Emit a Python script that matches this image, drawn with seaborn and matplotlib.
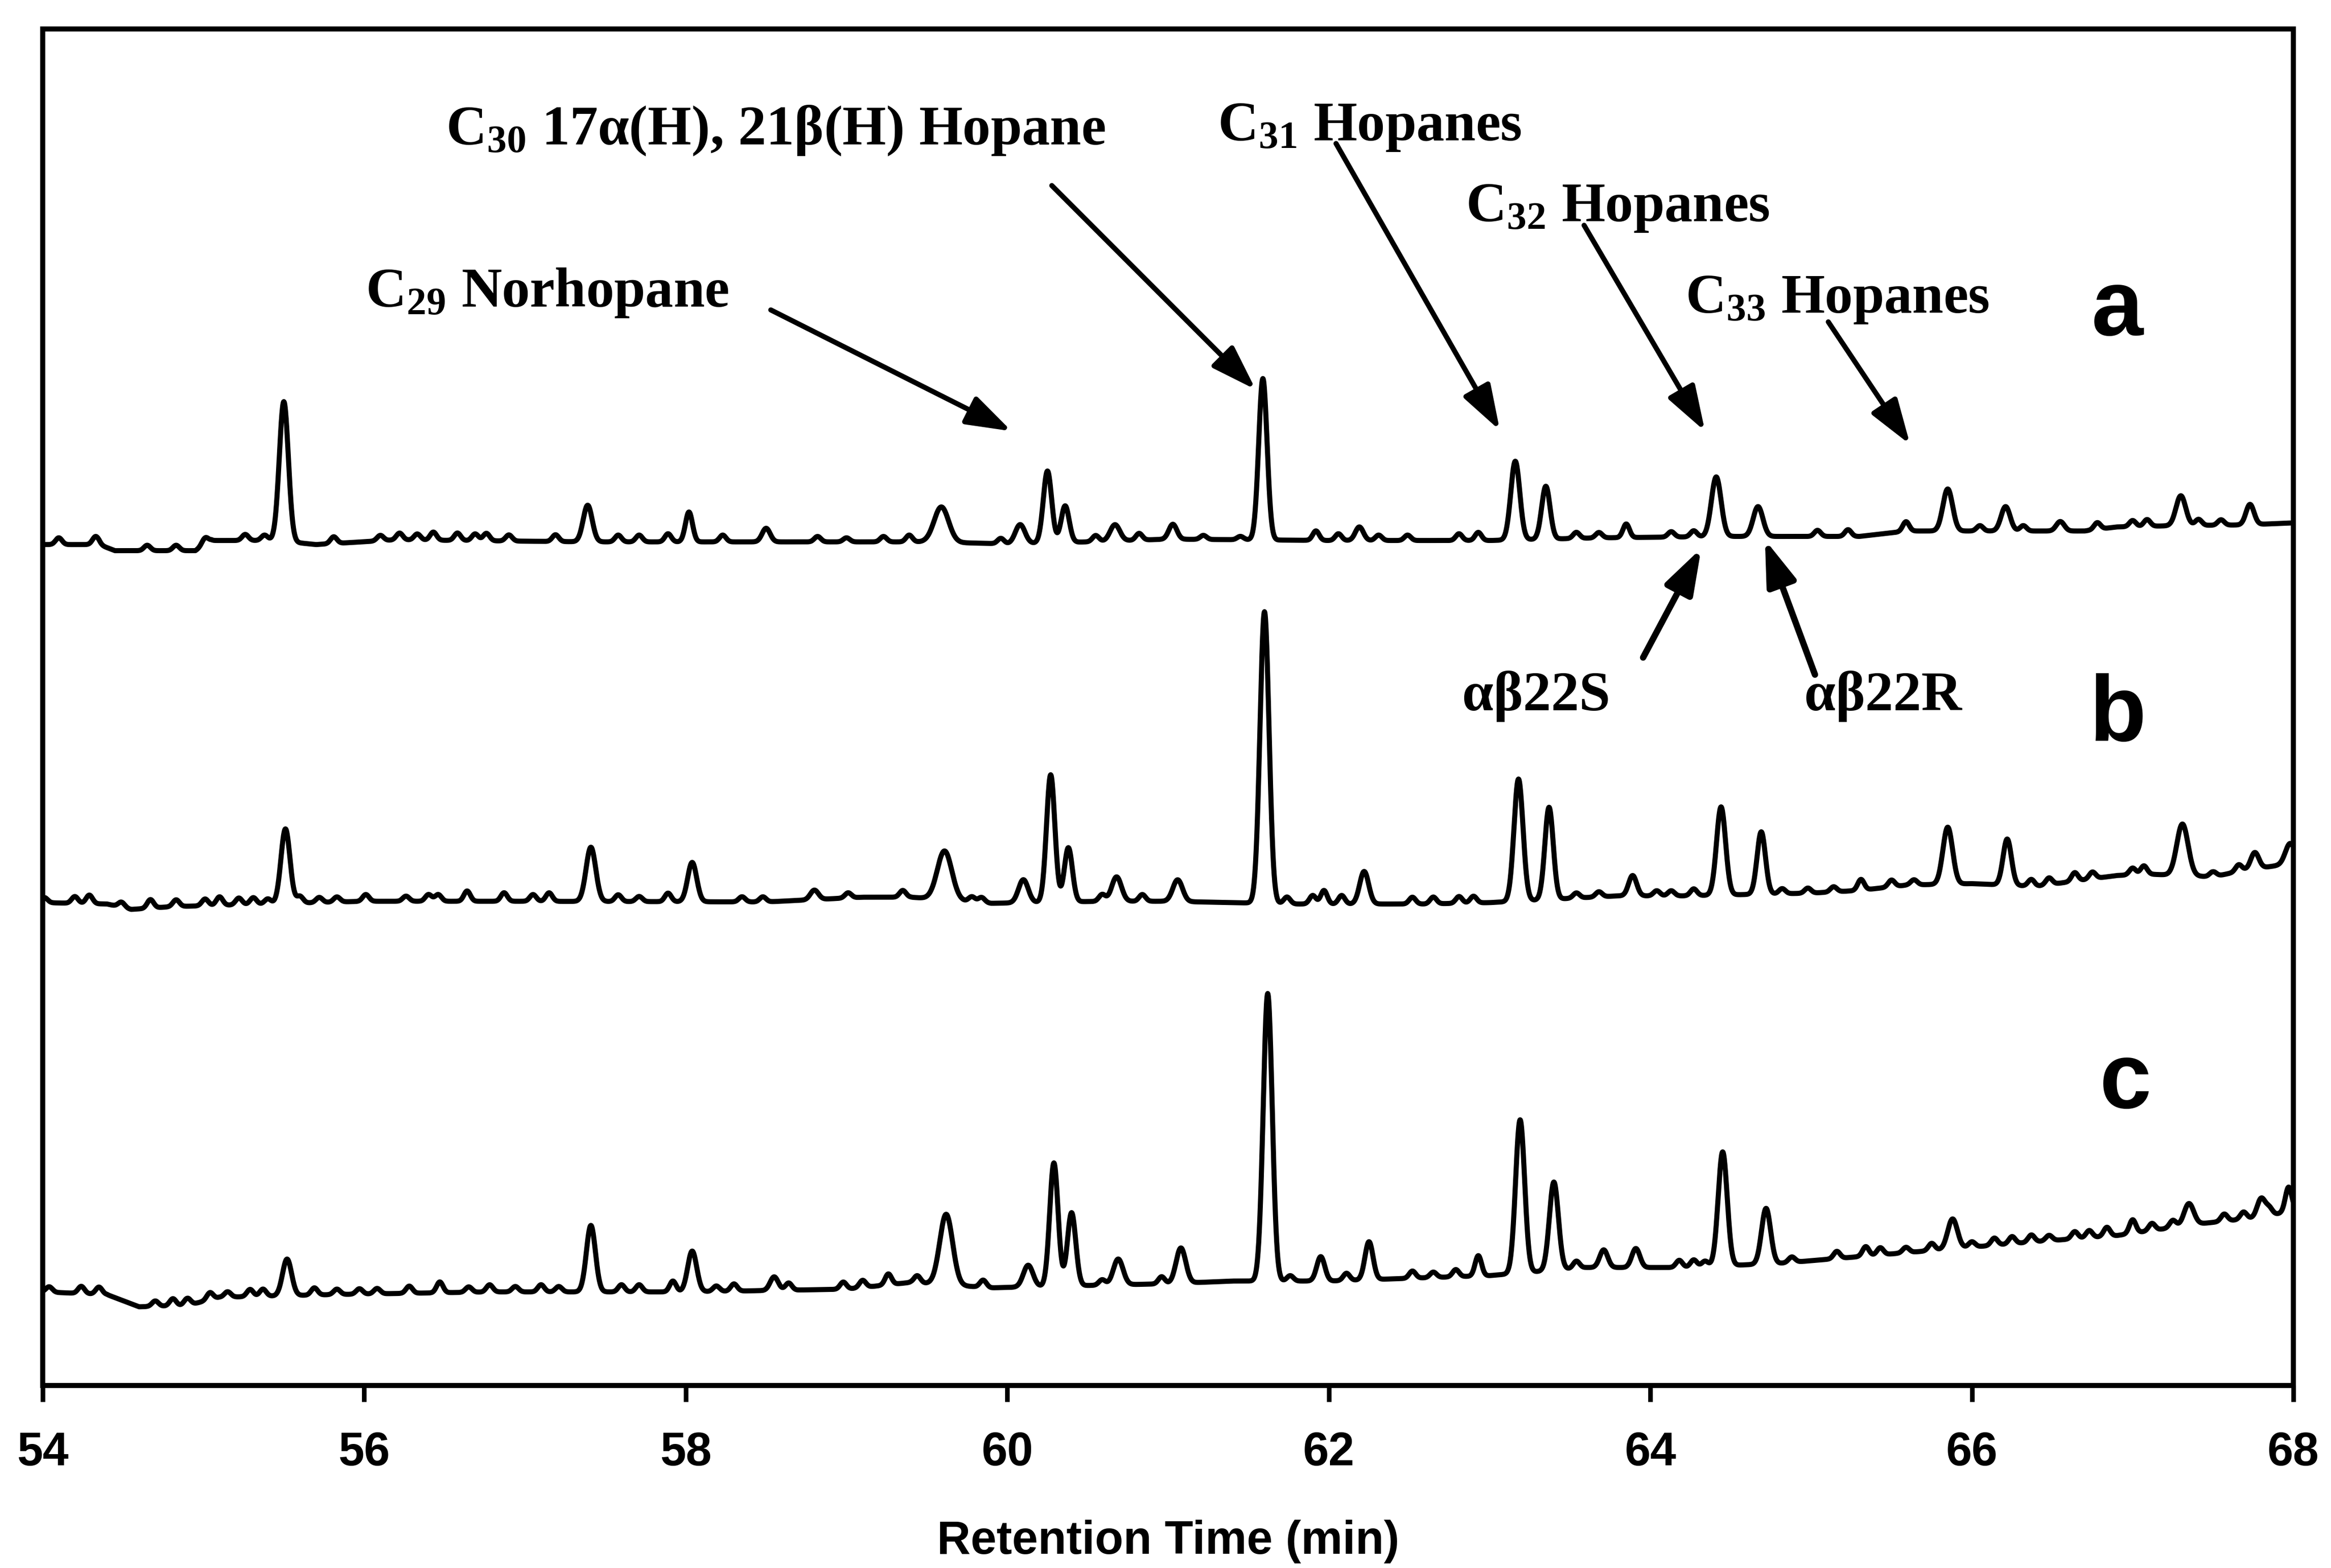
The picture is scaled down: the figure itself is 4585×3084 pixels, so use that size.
import numpy as np
import pandas as pd
import matplotlib
matplotlib.use("Agg")
import matplotlib.pyplot as plt
import seaborn as sns

# ---------------- data ----------------
x_ticks = [54, 56, 58, 60, 62, 64, 66, 68]
x_label = "Retention Time (min)"
trace_names = ["a", "b", "c"]

# baselines (retention time, signal in % of plot height)
base_a_t = [54.0, 54.35, 54.45, 54.95, 55.05, 55.45, 55.7, 56.2, 57.4, 59.5, 60.0, 60.5, 61.0, 62.0,
            63.0, 63.7, 64.5, 65.3, 65.6, 66.7, 66.9, 67.3, 67.7, 68.0]
base_a_u = [62.0, 62.0, 61.55, 61.55, 62.3, 62.3, 62.0, 62.35, 62.2, 62.2, 62.05, 62.2, 62.4, 62.3,
            62.3, 62.5, 62.6, 62.6, 63.0, 63.0, 63.3, 63.4, 63.45, 63.6]
base_b_t = [54.0, 54.4, 54.55, 54.8, 55.1, 56.0, 57.0, 58.5, 59.1, 59.4, 59.9, 60.6, 61.0, 61.8, 62.6,
            63.0, 63.8, 64.2, 65.0, 65.3, 65.6, 66.0, 66.4, 66.9, 67.1, 67.5, 67.7, 68.0]
base_b_u = [35.6, 35.5, 35.1, 35.3, 35.4, 35.7, 35.7, 35.65, 36.0, 36.0, 35.55, 35.7, 35.7, 35.5, 35.5,
            35.6, 36.1, 36.1, 36.3, 36.5, 36.9, 37.0, 36.8, 37.6, 37.7, 37.5, 38.0, 38.5]
base_c_t = [54.0, 54.4, 54.6, 54.9, 55.1, 55.8, 56.8, 58.0, 59.0, 59.4, 59.9, 60.6, 61.0, 61.4, 62.0,
            62.5, 63.0, 63.6, 64.2, 64.8, 65.3, 65.8, 66.4, 66.9, 67.4, 67.8, 68.0]
base_c_u = [6.9, 6.7, 5.8, 5.9, 6.5, 6.7, 6.9, 6.9, 7.1, 7.6, 7.2, 7.4, 7.5, 7.7, 7.7,
            7.9, 8.1, 8.7, 8.7, 9.0, 9.5, 10.0, 10.6, 11.05, 11.9, 12.4, 12.9]

# resolved peaks: retention time, height above baseline, width (sigma, min)
peak_a_t = [55.50, 57.39, 58.02, 58.50, 59.59, 60.08, 60.25, 60.36, 60.67, 61.03, 61.59, 61.92, 62.19,
            62.93, 63.16, 63.35, 63.85, 64.41, 64.67, 65.59, 65.85, 66.21, 66.55, 67.30, 67.73]
peak_a_h = [10.3, 2.7, 2.2, 1.0, 2.6, 1.4, 5.3, 2.7, 1.2, 1.1, 11.9, 0.7, 1.0,
            0.6, 5.8, 3.9, 1.0, 4.4, 2.2, 0.7, 3.1, 1.8, 0.7, 2.2, 1.5]
peak_a_w = [0.028, 0.028, 0.022, 0.025, 0.045, 0.03, 0.026, 0.025, 0.03, 0.025, 0.026, 0.02, 0.025,
            0.02, 0.028, 0.026, 0.02, 0.03, 0.03, 0.02, 0.03, 0.028, 0.025, 0.03, 0.025]

peak_b_t = [55.51, 57.41, 58.04, 58.80, 59.61, 60.10, 60.27, 60.38, 60.68, 61.06, 61.60, 61.97, 62.22,
            63.18, 63.37, 63.89, 64.44, 64.69, 65.31, 65.85, 66.22, 67.31, 67.76, 67.98]
peak_b_h = [5.5, 4.0, 2.9, 0.7, 3.6, 1.7, 9.4, 4.0, 1.8, 1.6, 21.5, 1.0, 2.4,
            9.0, 6.8, 1.5, 6.5, 4.6, 0.8, 4.2, 3.4, 3.8, 1.2, 1.5]
peak_b_w = [0.028, 0.03, 0.028, 0.025, 0.045, 0.03, 0.026, 0.025, 0.03, 0.03, 0.028, 0.02, 0.028,
            0.028, 0.026, 0.025, 0.028, 0.026, 0.02, 0.03, 0.026, 0.035, 0.025, 0.03]

peak_c_t = [55.52, 57.41, 58.04, 58.55, 59.62, 60.13, 60.29, 60.40, 60.69, 61.08, 61.62, 61.95, 62.25,
            62.93, 63.19, 63.40, 63.71, 63.91, 64.45, 64.72, 65.34, 65.88, 67.00, 67.35, 67.80, 67.97]
peak_c_h = [2.7, 4.9, 3.0, 1.0, 5.2, 1.6, 9.1, 5.4, 1.9, 2.6, 21.2, 1.8, 2.8,
            1.5, 11.3, 6.5, 1.3, 1.4, 8.4, 4.1, 0.7, 2.2, 1.0, 1.6, 1.4, 1.8]
peak_c_w = [0.028, 0.028, 0.028, 0.025, 0.04, 0.03, 0.026, 0.026, 0.03, 0.03, 0.028, 0.025, 0.025,
            0.02, 0.028, 0.028, 0.025, 0.025, 0.028, 0.028, 0.02, 0.03, 0.02, 0.03, 0.025, 0.02]

# small baseline wiggles (noise bumps)
minor_a_t = [54.10, 54.33, 54.65, 54.83, 55.01, 55.26, 55.38, 55.81, 56.10, 56.22, 56.33, 56.43, 56.58,
             56.69, 56.76, 56.90, 57.19, 57.58, 57.71, 57.89, 58.23, 58.82, 59.00, 59.23, 59.39, 59.96,
             60.55, 60.82, 61.22, 61.45, 62.06, 62.31, 62.49, 62.81, 63.54, 63.68, 64.13, 64.27, 65.04,
             65.23, 66.05, 66.32, 66.78, 67.00, 67.09, 67.41, 67.55]
minor_a_h = [0.5, 0.6, 0.4, 0.4, 0.5, 0.45, 0.4, 0.5, 0.4, 0.5, 0.45, 0.6, 0.55,
             0.5, 0.55, 0.45, 0.5, 0.5, 0.5, 0.6, 0.5, 0.4, 0.3, 0.4, 0.5, 0.4,
             0.45, 0.5, 0.3, 0.25, 0.5, 0.4, 0.4, 0.5, 0.45, 0.4, 0.4, 0.45, 0.45,
             0.5, 0.4, 0.4, 0.5, 0.45, 0.5, 0.45, 0.4]
minor_b_t = [54.01, 54.20, 54.29, 54.49, 54.67, 54.83, 55.01, 55.10, 55.22, 55.31, 55.40, 55.60, 55.72,
             55.83, 56.01, 56.26, 56.40, 56.46, 56.64, 56.87, 57.05, 57.15, 57.58, 57.71, 57.89, 58.35,
             58.48, 59.01, 59.35, 59.78, 59.84, 60.59, 60.84, 61.74, 61.90, 62.08, 62.52, 62.65, 62.81,
             62.90, 63.54, 63.68, 64.04, 64.13, 64.27, 64.82, 64.98, 65.14, 65.50, 65.64, 66.37, 66.48,
             66.64, 66.75, 67.00, 67.07, 67.50, 67.66]
minor_b_h = [0.38, 0.5, 0.63, 0.38, 0.63, 0.5, 0.5, 0.63, 0.5, 0.5, 0.38, 0.5, 0.38,
             0.38, 0.5, 0.38, 0.5, 0.5, 0.76, 0.63, 0.5, 0.63, 0.5, 0.38, 0.63, 0.38,
             0.38, 0.38, 0.5, 0.38, 0.38, 0.5, 0.5, 0.5, 0.63, 0.63, 0.5, 0.5, 0.5,
             0.5, 0.38, 0.38, 0.38, 0.38, 0.5, 0.38, 0.38, 0.38, 0.5, 0.38, 0.5, 0.5,
             0.63, 0.5, 0.5, 0.63, 0.38, 0.5]
minor_c_t = [54.04, 54.24, 54.35, 54.70, 54.81, 54.90, 55.04, 55.15, 55.29, 55.37, 55.69, 55.83, 55.97,
             56.08, 56.28, 56.47, 56.65, 56.78, 56.94, 57.10, 57.21, 57.60, 57.71, 57.92, 58.19, 58.30,
             58.64, 58.98, 59.10, 59.26, 59.44, 59.85, 60.59, 60.96, 61.76, 62.11, 62.52, 62.65, 62.79,
             63.54, 64.18, 64.27, 64.34, 64.88, 65.16, 65.43, 65.59, 65.75, 66.00, 66.14, 66.25, 66.37,
             66.48, 66.64, 66.73, 66.84, 67.12, 67.25, 67.57, 67.69, 67.85]
minor_c_h = [0.4, 0.53, 0.53, 0.4, 0.53, 0.53, 0.53, 0.4, 0.53, 0.53, 0.53, 0.4, 0.4,
             0.4, 0.53, 0.8, 0.4, 0.53, 0.4, 0.53, 0.4, 0.53, 0.53, 0.8, 0.4, 0.53,
             0.53, 0.53, 0.53, 0.8, 0.53, 0.53, 0.4, 0.53, 0.4, 0.53, 0.53, 0.4, 0.53,
             0.53, 0.53, 0.53, 0.4, 0.4, 0.53, 0.53, 0.4, 0.53, 0.4, 0.53, 0.53, 0.53,
             0.4, 0.53, 0.53, 0.67, 0.53, 0.53, 0.53, 0.53, 0.53]

# ---------------- build the traces ----------------
t = np.linspace(54, 68, 7001)


def build(bt, bu, pt, ph, pw, mt, mh):
    y = np.interp(t, bt, bu)
    for c, h, w in zip(pt, ph, pw):
        y = y + h * np.exp(-0.5 * ((t - c) / w) ** 2)
    for c, h in zip(mt, mh):
        y = y + h * np.exp(-0.5 * ((t - c) / 0.02) ** 2)
    return y


sig = {
    "a": build(base_a_t, base_a_u, peak_a_t, peak_a_h, peak_a_w, minor_a_t, minor_a_h),
    "b": build(base_b_t, base_b_u, peak_b_t, peak_b_h, peak_b_w, minor_b_t, minor_b_h),
    "c": build(base_c_t, base_c_u, peak_c_t, peak_c_h, peak_c_w, minor_c_t, minor_c_h),
}
df = pd.concat([pd.DataFrame({"time": t, "signal": sig[k], "trace": k}) for k in trace_names],
               ignore_index=True)

# ---------------- plotting ----------------
sns.set_theme(style="white")
plt.rcParams["font.family"] = ["Liberation Sans", "DejaVu Sans"]
plt.rcParams["mathtext.fontset"] = "custom"
plt.rcParams["mathtext.rm"] = "Liberation Serif:bold"
plt.rcParams["mathtext.it"] = "Liberation Serif:bold"
plt.rcParams["mathtext.bf"] = "Liberation Serif:bold"

fig = plt.figure(figsize=(4585 / 300, 3084 / 300), dpi=300)
ax = fig.add_axes([0.01832, 0.11641, 0.98386 - 0.01832, 0.98139 - 0.11641])

sns.lineplot(data=df, x="time", y="signal", hue="trace", palette={k: "black" for k in trace_names},
             estimator=None, linewidth=2.4, legend=False, ax=ax)

ax.set_xlim(54, 68)
ax.set_ylim(0, 100)
ax.set_yticks([])
ax.set_ylabel("")
ax.set_xticks(x_ticks)
ax.set_xticklabels([str(v) for v in x_ticks], fontsize=22, fontweight="bold")
ax.tick_params(axis="x", direction="out", length=7.7, width=2.2, pad=14, colors="black",
               bottom=True)
for s in ax.spines.values():
    s.set_visible(True)
    s.set_linewidth(2.4)
    s.set_color("black")

ax.set_xlabel(x_label, fontsize=22, fontweight="bold", color="black")
ax.xaxis.set_label_coords(0.5, -0.1151)
ax.xaxis.label.set_va("center")

serif = ["Liberation Serif", "DejaVu Serif"]
tkw = dict(family=serif, fontweight="bold", fontsize=26.5, ha="left", va="baseline", color="black")
ax.text(56.009, 79.54, "C$_{29}$ Norhopane", **tkw)
ax.text(56.507, 91.53, "C$_{30}$ 17α(H), 21β(H) Hopane", **tkw)
ax.text(61.307, 91.79, "C$_{31}$ Hopanes", **tkw)
ax.text(62.851, 85.84, "C$_{32}$ Hopanes", **tkw)
ax.text(64.219, 79.10, "C$_{33}$ Hopanes", **tkw)
ax.text(62.829, 49.79, "αβ22S", **tkw)
ax.text(64.959, 49.79, "αβ22R", **tkw)

akw = dict(arrowstyle="-|>,head_length=0.45,head_width=0.15", mutation_scale=40, lw=2.4,
           color="black", shrinkA=0, shrinkB=0)
arrows = [
    ((58.529, 79.30), (60.027, 70.36)),
    ((60.277, 88.47), (61.545, 73.43)),
    ((62.045, 91.57), (63.064, 70.42)),
    ((63.588, 85.54), (64.340, 70.36)),
    ((65.107, 78.42), (65.616, 69.38)),
]
for tail, tip in arrows:
    ax.annotate("", xy=tip, xytext=tail, arrowprops=akw)
akw2 = dict(akw, lw=3.0)
ax.annotate("", xy=(64.317, 61.73), xytext=(63.955, 53.67), arrowprops=akw2)
ax.annotate("", xy=(64.713, 62.36), xytext=(65.024, 52.41), arrowprops=akw2)

lkw = dict(fontsize=44, fontweight="bold", ha="center", va="baseline", color="black",
           family=["Liberation Sans", "DejaVu Sans"])
ax.text(66.904, 77.44, "a", **lkw)
ax.text(66.910, 47.53, "b", **lkw)
ax.text(66.956, 20.47, "c", **lkw)

fig.savefig("out.png", dpi=300, facecolor="white")
